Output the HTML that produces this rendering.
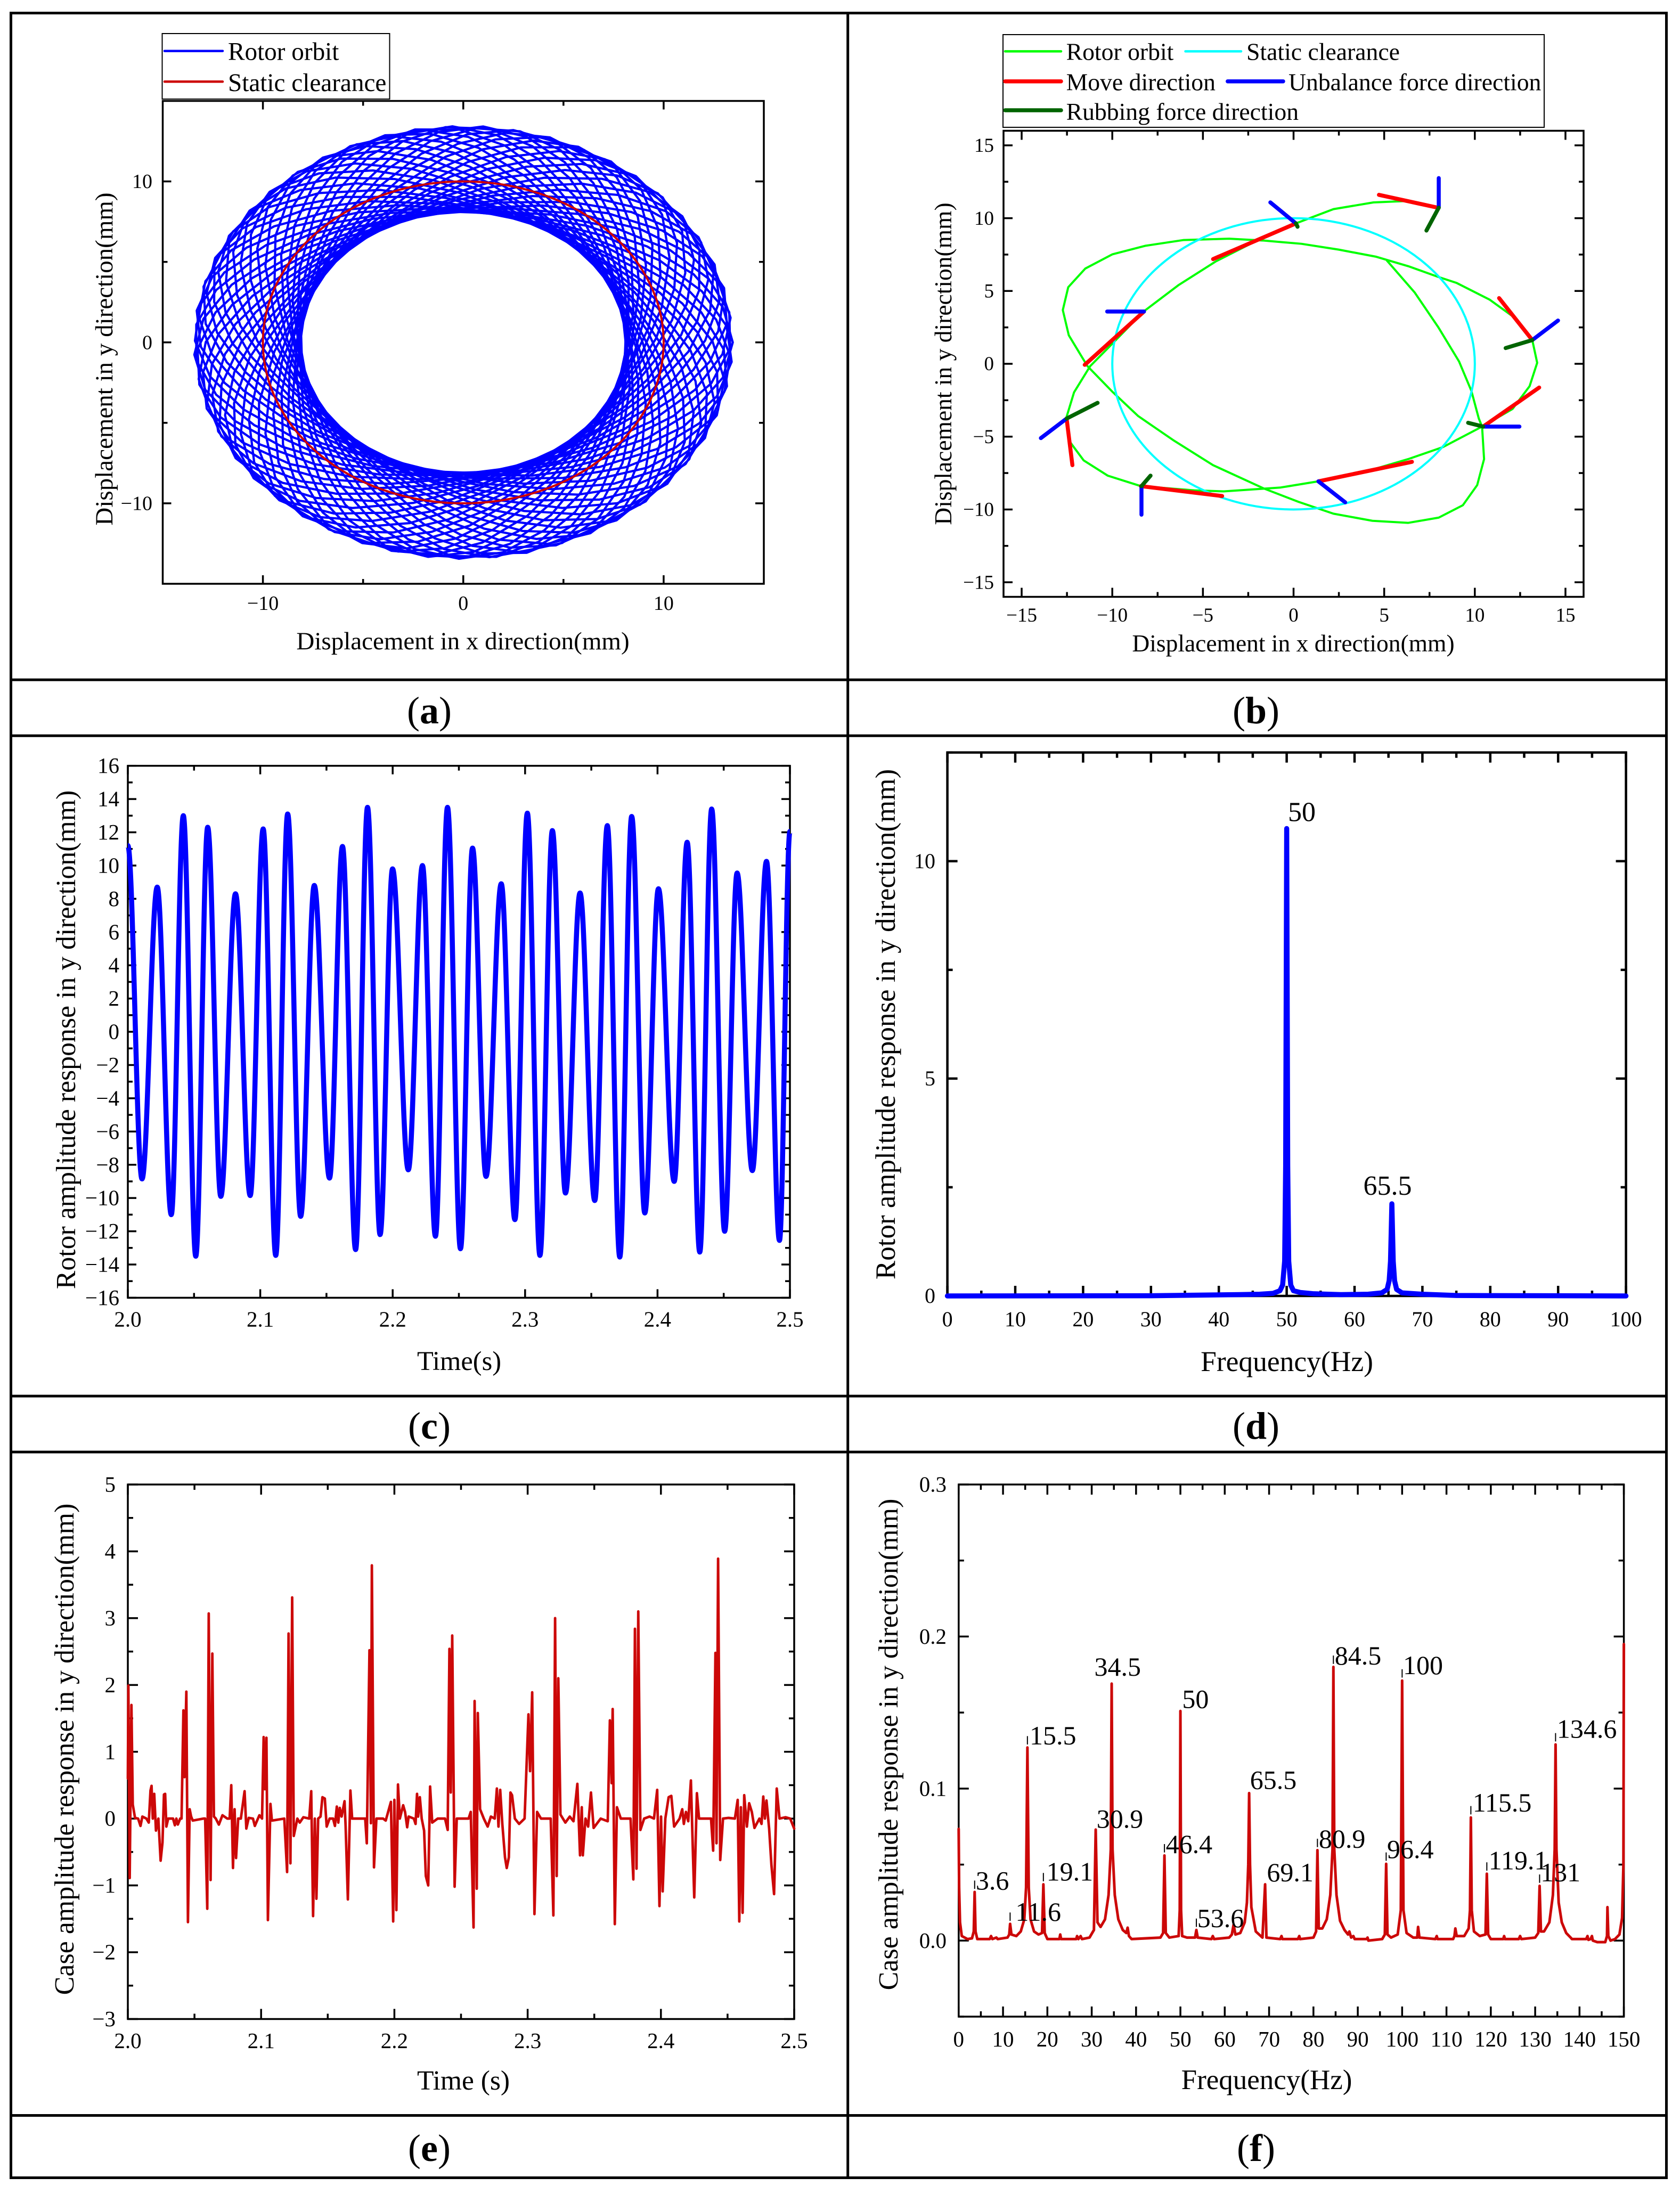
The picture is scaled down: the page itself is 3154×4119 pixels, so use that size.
<!DOCTYPE html>
<html lang="en">
<head>
<meta charset="utf-8">
<title>Rotor and case response figure</title>
<style>
html,body{margin:0;padding:0;background:#fff;}
svg{display:block;}
text{font-family:"Liberation Serif",serif;fill:#000;}
.rule{stroke:#000;stroke-width:5;fill:none;}
.cap{font-size:72px;text-anchor:middle;}
.cap tspan{font-weight:bold;}
.legend-box{fill:#fff;stroke:#000;stroke-width:2;}
</style>
</head>
<body>
<svg id="figure" width="3154" height="4119" viewBox="0 0 3154 4119">
<rect x="0" y="0" width="3154" height="4119" fill="#fff"/>

<g>
<rect class="rule" x="20.5" y="24.5" width="3108" height="4064"/>
<line class="rule" x1="1591.7" y1="24.5" x2="1591.7" y2="4088.5"/>
<line class="rule" x1="20.5" y1="1276.3" x2="3128.5" y2="1276.3"/>
<line class="rule" x1="20.5" y1="1381.3" x2="3128.5" y2="1381.3"/>
<line class="rule" x1="20.5" y1="2621" x2="3128.5" y2="2621"/>
<line class="rule" x1="20.5" y1="2726" x2="3128.5" y2="2726"/>
<line class="rule" x1="20.5" y1="3971.5" x2="3128.5" y2="3971.5"/>
</g>

<text class="cap" x="806" y="1358">(<tspan>a</tspan>)</text>
<text class="cap" x="2358" y="1358">(<tspan>b</tspan>)</text>
<text class="cap" x="806" y="2701">(<tspan>c</tspan>)</text>
<text class="cap" x="2358" y="2701">(<tspan>d</tspan>)</text>
<text class="cap" x="806" y="4057">(<tspan>e</tspan>)</text>
<text class="cap" x="2358" y="4057">(<tspan>f</tspan>)</text>

<g id="panel-a">
<text x="869" y="1219" font-size="47" text-anchor="middle">Displacement in x direction(mm)</text>
<text x="211" y="674" font-size="47" text-anchor="middle" transform="rotate(-90 211 674)">Displacement in y direction(mm)</text>
</g>
<g>
<rect class="legend-box" x="304.5" y="63" width="427" height="123"/>
<line x1="309" y1="95.7" x2="418" y2="95.7" stroke="#0000ff" stroke-width="4.5" stroke-linecap="round"/>
<text x="428" y="112.5" font-size="47.2">Rotor orbit</text>
<line x1="309" y1="153.3" x2="418" y2="153.3" stroke="#cc0000" stroke-width="4.5" stroke-linecap="round"/>
<text x="428" y="171" font-size="47.2">Static clearance</text>
</g>

<g id="panel-b">
<text x="2428" y="1223" font-size="45.5" text-anchor="middle">Displacement in x direction(mm)</text>
<text x="1786" y="683" font-size="45.5" text-anchor="middle" transform="rotate(-90 1786 683)">Displacement in y direction(mm)</text>
</g>
<g>
<rect class="legend-box" x="1883" y="65" width="1016" height="174"/>
<line x1="1887" y1="96.4" x2="1992" y2="96.4" stroke="#00ff00" stroke-width="4.5" stroke-linecap="round"/>
<text x="2001.6" y="112.5" font-size="45.7">Rotor orbit</text>
<line x1="2225.5" y1="96.4" x2="2330" y2="96.4" stroke="#00ffff" stroke-width="4.5" stroke-linecap="round"/>
<text x="2340" y="112.5" font-size="45.7">Static clearance</text>
<line x1="1887" y1="152.7" x2="1992" y2="152.7" stroke="#ff0000" stroke-width="7.5" stroke-linecap="round"/>
<text x="2001.6" y="169.6" font-size="45.7">Move direction</text>
<line x1="2304.8" y1="152.7" x2="2409" y2="152.7" stroke="#0000ff" stroke-width="7.5" stroke-linecap="round"/>
<text x="2419" y="169.6" font-size="45.7">Unbalance force direction</text>
<line x1="1887" y1="207" x2="1992" y2="207" stroke="#006400" stroke-width="7.5" stroke-linecap="round"/>
<text x="2001.6" y="225" font-size="45.7">Rubbing force direction</text>
</g>

<g id="panel-c">
<text x="862" y="2572" font-size="50.5" text-anchor="middle">Time(s)</text>
<text x="141" y="1952" font-size="51.8" text-anchor="middle" transform="rotate(-90 141 1952)">Rotor amplitude response in y direction(mm)</text>
</g>

<g id="panel-d">
<text x="2416" y="2574" font-size="53.5" text-anchor="middle">Frequency(Hz)</text>
<text x="1680" y="1923" font-size="53" text-anchor="middle" transform="rotate(-90 1680 1923)">Rotor amplitude response in y direction(mm)</text>
</g>

<g id="panel-e">
<text x="870" y="3923" font-size="51.5" text-anchor="middle">Time (s)</text>
<text x="138" y="3284" font-size="52" text-anchor="middle" transform="rotate(-90 138 3284)">Case amplitude response in y direction(mm)</text>
</g>

<g id="panel-f">
<text x="2378" y="3922" font-size="53" text-anchor="middle">Frequency(Hz)</text>
<text x="1685" y="3275" font-size="52" text-anchor="middle" transform="rotate(-90 1685 3275)">Case amplitude response in y direction(mm)</text>
</g>
</svg>

<script>
/* ---------- panel (a): rotor orbit, one closed loop per whirl turn ---------- */
const orbitLoopAngles = [0,4.5,9,13.5,18,22.5,27,31.5,36,40.5,45,49.5,54,58.5,63,67.5,72,76.5,81,85.5,90,94.5,99,103.5,108,112.5,117,121.5,126,130.5,135,139.5,144,148.5,153,157.5,162,166.5,171,175.5];
const orbitSemiMajor = [13.45];
const orbitSemiMinor = [8.15];
const clearanceRadius = [10];
const aXTicks = [-10,0,10];
const aXMinor = [-5,5];
const aYTicks = [-10,0,10];
const aYMinor = [-5,5];
const aXLabels = ['\u221210','0','10'];
const aYLabels = ['\u221210','0','10'];

/* ---------- panel (b): two-turn orbit and force directions ---------- */
const orbitB = [[5.15,7.09],[6.68,4.90],[7.98,2.52],[9.13,0.16],[9.81,-1.86],[10.22,-3.76],[10.40,-4.31],[10.51,-6.54],[10.13,-8.33],[9.34,-9.71],[8.01,-10.56],[6.33,-10.92],[4.35,-10.78],[2.20,-10.29],[0.28,-9.48],[-1.64,-8.56],[-4.44,-6.96],[-6.65,-5.23],[-8.57,-3.59],[-9.96,-1.96],[-11.37,-0.16],[-12.40,1.96],[-12.73,3.69],[-12.43,5.26],[-11.49,6.54],[-9.99,7.52],[-8.19,8.10],[-6.06,8.50],[-3.55,8.59],[-1.64,8.46],[0.43,8.24],[2.49,7.84],[4.56,7.35],[6.33,6.70],[7.95,5.98],[8.98,5.56],[10.81,4.41],[12.08,3.27],[13.17,1.63],[13.44,0.07],[13.02,-1.54],[12.08,-3.10],[10.40,-4.31],[8.24,-5.72],[6.33,-6.54],[4.56,-7.19],[1.37,-8.07],[-0.75,-8.50],[-3.85,-8.76],[-5.47,-8.69],[-8.42,-8.40],[-10.25,-7.68],[-11.58,-6.63],[-12.32,-5.39],[-12.55,-3.76],[-12.11,-1.96],[-11.22,-0.16],[-10.19,1.14],[-8.27,3.59],[-6.36,5.39],[-4.29,7.03],[-2.23,8.33],[0.13,9.64],[2.20,10.62],[4.41,11.08],[6.33,11.18]];
const moveSegments = [[4.71,11.60,7.95,10.72],[-4.44,7.19,0.13,9.64],[-11.52,-0.07,-8.25,3.59],[11.34,4.51,13.17,1.63],[13.55,-1.63,10.46,-4.31],[6.53,-6.73,1.37,-8.07],[-3.94,-9.08,-8.42,-8.40],[-12.2,-6.96,-12.52,-3.76]];
const unbalanceSegments = [[8.01,10.72,8.01,12.75],[-1.28,11.08,0.13,9.64],[-10.28,3.59,-8.25,3.59],[13.17,1.63,14.59,2.97],[10.46,-4.31,12.46,-4.31],[1.37,-8.07,2.85,-9.51],[-8.39,-8.40,-8.39,-10.36],[-12.52,-3.76,-13.94,-5.10]];
const rubbingSegments = [[8.01,10.72,7.33,9.15],[0.13,9.64,0.22,9.41],[13.17,1.63,11.70,1.08],[10.46,-4.31,9.63,-4.05],[-8.39,-8.40,-7.89,-7.68],[-12.52,-3.76,-10.81,-2.68]];
const bXTicks = [-15,-10,-5,0,5,10,15];
const bXMinor = [-12.5,-7.5,-2.5,2.5,7.5,12.5];
const bYTicks = [-15,-10,-5,0,5,10,15];
const bYMinor = [-12.5,-7.5,-2.5,2.5,7.5,12.5];
const bXLabels = ['\u221215','\u221210','\u22125','0','5','10','15'];
const bYLabels = ['\u221215','\u221210','\u22125','0','5','10','15'];

/* ---------- panel (c): rotor y response, successive extremes ---------- */
const rotorTimes = [2.0,2.0107,2.0222,2.0328,2.0419,2.0513,2.0603,2.0702,2.0813,2.0924,2.1022,2.1117,2.1207,2.1305,2.1408,2.1523,2.1621,2.172,2.181,2.1905,2.1999,2.2118,2.2225,2.2323,2.2414,2.2512,2.2603,2.2705,2.282,2.2923,2.3017,2.3112,2.3206,2.3305,2.3415,2.3526,2.3621,2.3715,2.3805,2.3904,2.4007,2.4126,2.4224,2.4319,2.4409,2.4507,2.4601,2.4716,2.4823,2.4921,2.5];
const rotorExtremes = [11.2,-8.85,8.7,-11.0,13.0,-13.5,12.3,-9.9,8.3,-9.85,12.2,-13.45,13.1,-11.1,8.8,-8.8,11.15,-13.1,13.5,-12.2,9.8,-8.3,10.0,-12.3,13.5,-13.05,11.05,-8.7,8.9,-11.3,13.15,-13.45,12.1,-9.7,8.35,-10.15,12.4,-13.55,12.95,-10.9,8.6,-9.0,11.4,-13.25,13.4,-12.0,9.55,-8.35,10.25,-12.55,12.05];
const cXTicks = [2.0,2.1,2.2,2.3,2.4,2.5];
const cXMinor = [2.05,2.15,2.25,2.35,2.45];
const cYTicks = [-16,-14,-12,-10,-8,-6,-4,-2,0,2,4,6,8,10,12,14,16];
const cYMinor = [-15,-13,-11,-9,-7,-5,-3,-1,1,3,5,7,9,11,13,15];
const cXLabels = ['2.0','2.1','2.2','2.3','2.4','2.5'];
const cYLabels = ['\u221216','\u221214','\u221212','\u221210','\u22128','\u22126','\u22124','\u22122','0','2','4','6','8','10','12','14','16'];

/* ---------- panel (d): rotor spectrum ---------- */
const rotorFreq = [0,30,43,46,48,49,49.4,49.7,49.85,50,50.15,50.3,50.6,51,52,54,58,62,64,64.8,65.1,65.3,65.5,65.7,65.9,66.2,67,70,75,100];
const rotorAmp = [0,0.005,0.03,0.04,0.06,0.12,0.25,0.8,3,10.75,3,0.8,0.25,0.12,0.08,0.05,0.03,0.04,0.07,0.15,0.35,0.8,2.12,0.8,0.35,0.15,0.07,0.04,0.01,0];
const dXTicks = [0,10,20,30,40,50,60,70,80,90,100];
const dXMinor = [5,15,25,35,45,55,65,75,85,95];
const dYTicks = [0,5,10];
const dYMinor = [2.5,7.5,12.5];
const dXLabels = ['0','10','20','30','40','50','60','70','80','90','100'];
const dYLabels = ['0','5','10'];
const dPeakText = ['50','65.5'];
const dPeakLabelX = [50.19,61.3];
const dPeakLabelY = [10.92,2.33];

/* ---------- panel (e): case y response ---------- */
const caseResponse = [[2.0,0.6],[2.0004,1.99],[2.0014,-0.89],[2.0027,1.70],[2.0037,0.21],[2.0054,0.01],[2.0077,0],[2.0095,-0.11],[2.0109,0.03],[2.0139,0],[2.0157,-0.06],[2.017,0.42],[2.0178,0.49],[2.0187,0],[2.0198,0.37],[2.0211,-0.18],[2.0229,0],[2.0246,-0.63],[2.026,-0.36],[2.0271,0.36],[2.028,0.37],[2.0289,-0.12],[2.0303,0],[2.0339,0],[2.0353,-0.10],[2.0364,0],[2.0375,-0.09],[2.0393,0],[2.0403,0],[2.0417,1.62],[2.0425,0.62],[2.0439,1.90],[2.0451,-1.55],[2.0464,0.14],[2.0475,0.03],[2.0487,-0.03],[2.0567,0],[2.058,0],[2.0596,-1.35],[2.0607,3.07],[2.0621,-0.92],[2.0634,2.47],[2.0646,0.03],[2.066,0],[2.0683,-0.09],[2.071,0.05],[2.0746,0],[2.0764,0],[2.0776,0.50],[2.0789,-0.74],[2.0801,0.14],[2.0812,-0.59],[2.0828,0],[2.0848,0],[2.0876,0.41],[2.0889,-0.15],[2.0907,0.01],[2.0939,0],[2.0953,-0.11],[2.0987,0.05],[2.1007,0],[2.1019,1.22],[2.1028,0.44],[2.104,1.21],[2.1051,-1.52],[2.107,0.22],[2.1081,-0.03],[2.1174,0],[2.1195,-0.80],[2.1206,2.77],[2.122,-0.67],[2.1233,3.31],[2.1245,-0.26],[2.1272,0],[2.129,-0.06],[2.1317,0.02],[2.1361,0],[2.1376,0.41],[2.139,-1.46],[2.1403,0],[2.1415,-1.2],[2.1428,0],[2.1446,0.03],[2.146,0.32],[2.1478,0.30],[2.1492,-0.12],[2.1514,0],[2.154,0],[2.1554,-0.11],[2.1568,0.18],[2.1579,-0.06],[2.159,0.16],[2.1604,0.03],[2.1626,0.26],[2.1634,-0.11],[2.1651,-1.21],[2.167,0.42],[2.1683,0],[2.1781,0],[2.1793,-0.37],[2.1813,2.52],[2.1824,-0.07],[2.1831,3.79],[2.1847,-0.73],[2.1865,0],[2.1915,0],[2.1935,-0.03],[2.1974,0.25],[2.1991,-1.54],[2.2,0.28],[2.2015,-1.37],[2.2027,0.51],[2.2041,0],[2.2066,0.2],[2.208,0.1],[2.2096,-0.13],[2.2107,0.03],[2.2146,0],[2.2159,-0.08],[2.217,0.37],[2.2178,0.03],[2.2191,0.32],[2.2205,0],[2.2223,-0.18],[2.2236,-0.86],[2.2254,-1.0],[2.2268,0.48],[2.2284,-0.06],[2.2325,0],[2.238,0],[2.24,-0.17],[2.2413,2.54],[2.2423,0.39],[2.2434,2.74],[2.2452,-1.02],[2.2468,0],[2.2557,0],[2.2573,0.1],[2.2594,-1.63],[2.2602,1.76],[2.2618,-1.05],[2.2626,1.58],[2.2643,0.14],[2.2671,0],[2.27,-0.12],[2.2724,0.03],[2.2753,0],[2.2769,0.45],[2.2781,-0.12],[2.2794,0.43],[2.281,-0.08],[2.283,-0.58],[2.2843,-0.74],[2.2859,-0.58],[2.2871,0.39],[2.2883,0.35],[2.2904,0],[2.2936,-0.08],[2.2977,0],[2.3006,1.56],[2.3018,0.71],[2.3034,1.89],[2.3051,-1.43],[2.3071,0.1],[2.31,0],[2.3173,0],[2.3193,-1.45],[2.3206,3.0],[2.3218,-0.86],[2.323,2.1],[2.3246,0.06],[2.3283,-0.06],[2.3316,0.03],[2.3344,-0.04],[2.3373,0.52],[2.3393,-0.55],[2.3406,0.17],[2.3414,-0.55],[2.3434,0],[2.3454,-0.12],[2.3475,0.39],[2.3495,-0.14],[2.3548,0],[2.3601,-0.04],[2.3617,1.47],[2.363,0.53],[2.3638,1.64],[2.3654,-1.58],[2.367,0.17],[2.3699,0],[2.3772,0],[2.3793,-0.91],[2.3805,2.84],[2.3817,-0.75],[2.383,3.1],[2.3846,-0.17],[2.3874,0],[2.3915,0.03],[2.3948,0],[2.3972,0.43],[2.3989,-1.31],[2.4001,0.03],[2.4013,-1.09],[2.4033,0],[2.4058,0.32],[2.4078,0.34],[2.4099,-0.12],[2.414,0],[2.416,0.14],[2.4172,-0.08],[2.4188,0.1],[2.4205,-0.04],[2.4225,0.57],[2.4241,-0.58],[2.425,-1.18],[2.427,0.38],[2.4286,0],[2.4376,0],[2.4392,-0.48],[2.4409,2.48],[2.4417,-0.37],[2.4429,3.89],[2.4445,-0.62],[2.4466,0],[2.4507,0.01],[2.4555,0],[2.4576,0.28],[2.4588,-1.54],[2.46,0.17],[2.4613,-1.41],[2.4625,0.35],[2.4645,-0.12],[2.4662,0.23],[2.4682,0.1],[2.4702,-0.14],[2.4739,0],[2.4755,-0.08],[2.4768,0.33],[2.478,0],[2.4792,0.27],[2.4812,-0.15],[2.4829,-0.69],[2.4849,-1.13],[2.4869,0.45],[2.489,0],[2.4935,0.02],[2.497,0],[2.5,-0.15]];
const eXTicks = [2.0,2.1,2.2,2.3,2.4,2.5];
const eXMinor = [2.05,2.15,2.25,2.35,2.45];
const eYTicks = [-3,-2,-1,0,1,2,3,4,5];
const eYMinor = [-2.5,-1.5,-0.5,0.5,1.5,2.5,3.5,4.5];
const eXLabels = ['2.0','2.1','2.2','2.3','2.4','2.5'];
const eYLabels = ['\u22123','\u22122','\u22121','0','1','2','3','4','5'];

/* ---------- panel (f): case spectrum ---------- */
const caseSpectrum = [[0,0.0735],[0.1,0.035],[0.3,0.012],[0.7,0.003],[2,0.001],[3,0.0015],[3.4,0.006],[3.6,0.032],[3.8,0.006],[4.2,0.001],[7,0.001],[7.3,0.003],[7.6,0.001],[8.5,0.002],[8.8,0.001],[11,0.002],[11.4,0.004],[11.6,0.011],[11.9,0.004],[13,0.003],[14,0.006],[14.8,0.014],[15.2,0.035],[15.5,0.127],[15.8,0.035],[16.2,0.014],[17,0.006],[18,0.004],[18.8,0.005],[19.1,0.037],[19.4,0.005],[20,0.001],[22.7,0.001],[22.9,0.004],[23.1,0.001],[26.5,0.001],[26.7,0.003],[27,0.001],[27.5,0.003],[27.8,0.001],[29.5,0.002],[30.5,0.007],[30.9,0.073],[31.3,0.012],[32,0.009],[33,0.014],[33.8,0.03],[34.3,0.06],[34.5,0.169],[34.7,0.06],[35.2,0.03],[36,0.014],[37,0.007],[37.8,0.005],[38.1,0.0085],[38.4,0.003],[39,0.001],[45.5,0.002],[46.1,0.005],[46.4,0.056],[46.7,0.005],[47.5,0.002],[49.6,0.003],[49.85,0.02],[50,0.151],[50.15,0.02],[50.4,0.003],[51.5,0.002],[53.3,0.002],[53.6,0.007],[53.9,0.002],[57,0.001],[57.3,0.003],[57.6,0.001],[61,0.002],[61.6,0.004],[62,0.0105],[62.4,0.004],[63.5,0.005],[64.5,0.012],[65,0.025],[65.3,0.05],[65.5,0.097],[65.7,0.05],[66,0.022],[67,0.006],[68.5,0.002],[69.1,0.037],[69.4,0.002],[72.5,0.001],[72.8,0.003],[73,0.001],[76.5,0.001],[76.8,0.003],[77,0.001],[80,0.002],[80.6,0.006],[80.9,0.0595],[81.2,0.008],[82,0.008],[83,0.014],[83.8,0.03],[84.3,0.06],[84.5,0.18],[84.7,0.06],[85.2,0.03],[86,0.013],[87,0.007],[87.8,0.004],[88.1,0.006],[88.5,0.002],[89,0.003],[89.3,0.001],[92,0.001],[92.2,0.002],[92.4,0],[95.5,0.001],[96.1,0.004],[96.4,0.0505],[96.7,0.004],[97.5,0.002],[99,0.004],[99.7,0.02],[100,0.171],[100.3,0.02],[101,0.005],[102.5,0.002],[103.4,0.002],[103.6,0.009],[103.9,0.002],[107.5,0.001],[107.8,0.003],[108,0.001],[111.5,0.001],[111.8,0.003],[112,0.008],[112.3,0.003],[114,0.003],[115,0.008],[115.3,0.02],[115.5,0.081],[115.7,0.02],[116.2,0.006],[117.5,0.003],[118.8,0.004],[119.1,0.044],[119.4,0.004],[120,0.001],[122.8,0.001],[123,0.003],[123.2,0.001],[126.3,0.001],[126.6,0.003],[126.9,0.001],[130,0.002],[130.7,0.005],[131,0.036],[131.3,0.006],[132,0.006],[133.2,0.012],[134,0.03],[134.4,0.06],[134.6,0.129],[134.8,0.06],[135.3,0.025],[136,0.012],[137,0.005],[138,0.002],[138.3,0.001],[141.5,0.001],[141.8,0.003],[142,0.0005],[142.5,0.001],[142.8,0.003],[143,0],[144,-0.001],[145.8,-0.001],[146.2,0.003],[146.3,0.022],[146.5,0.003],[147,0],[148,0.001],[149,0.004],[149.6,0.015],[149.9,0.05],[150,0.195]];
const fXTicks = [0,10,20,30,40,50,60,70,80,90,100,110,120,130,140,150];
const fXMinor = [5,15,25,35,45,55,65,75,85,95,105,115,125,135,145];
const fYTicks = [0,0.1,0.2,0.3];
const fYMinor = [-0.05,0.05,0.15,0.25];
const fXLabels = ['0','10','20','30','40','50','60','70','80','90','100','110','120','130','140','150'];
const fYLabels = ['0.0','0.1','0.2','0.3'];
const fPeakText = ['3.6','11.6','15.5','19.1','30.9','34.5','46.4','50','53.6','65.5','69.1','80.9','84.5','96.4','100','115.5','119.1','131','134.6'];
const fPeakLabelX = [3.86,12.8,16.0,19.8,31.1,30.6,46.7,50.4,53.8,65.7,69.5,81.2,84.8,96.6,100.2,115.9,119.5,131.2,134.9];
const fPeakLabelY = [0.0336,0.0130,0.129,0.0396,0.0742,0.1743,0.0576,0.1530,0.0089,0.0998,0.0390,0.0611,0.1815,0.0542,0.1752,0.0849,0.0469,0.0390,0.1334];
const fLeaderFreq = [3.6,11.6,15.5,19.1,46.4,53.6,80.9,84.5,96.4,100,115.5,119.1,131,134.6];
const fLeaderAmp = [0.032,0.011,0.127,0.037,0.056,0.007,0.0595,0.18,0.0505,0.171,0.081,0.044,0.036,0.129];

/* ---------- drawing helpers ---------- */
const root = document.getElementById('figure');

function mk(parent, tag, attrs, name) {
  const el = document.createElementNS(root.namespaceURI, tag);
  for (const k in attrs) { el.setAttribute(k, attrs[k]); }
  
  
  parent.appendChild(el);
  return el;
}

function linear(d0, d1, r0, r1) {
  return function (v) { return r0 + (v - d0) / (d1 - d0) * (r1 - r0); };
}

function drawAxes(g, prefix, c) {
  const xs = linear(c.xDomain[0], c.xDomain[1], c.left, c.right);
  const ys = linear(c.yDomain[0], c.yDomain[1], c.bottom, c.top);
  const tickStyle = { stroke: '#000', 'stroke-width': c.lw };
  function xTick(v, len, name) {
    const x = xs(v);
    mk(g, 'line', Object.assign({ x1: x, x2: x, y1: c.bottom, y2: c.bottom - len }, tickStyle), name);
    mk(g, 'line', Object.assign({ x1: x, x2: x, y1: c.top, y2: c.top + len }, tickStyle), name + '-top');
  }
  function yTick(v, len, name) {
    const y = ys(v);
    mk(g, 'line', Object.assign({ x1: c.left, x2: c.left + len, y1: y, y2: y }, tickStyle), name);
    mk(g, 'line', Object.assign({ x1: c.right, x2: c.right - len, y1: y, y2: y }, tickStyle), name + '-right');
  }
  c.xMinor.forEach(function (v) { xTick(v, c.minor, prefix + '-x-minor-tick'); });
  c.yMinor.forEach(function (v) { yTick(v, c.minor, prefix + '-y-minor-tick'); });
  c.xTicks.forEach(function (v, i) {
    xTick(v, c.major, prefix + '-x-major-tick');
    const t = mk(g, 'text', { x: xs(v), y: c.xLabelY, 'font-size': c.tickFont, 'text-anchor': 'middle' }, prefix + '-x-tick-label');
    t.textContent = c.xLabels[i];
  });
  c.yTicks.forEach(function (v, i) {
    yTick(v, c.major, prefix + '-y-major-tick');
    const t = mk(g, 'text', { x: c.yLabelX, y: ys(v) + c.tickFont * 0.33, 'font-size': c.tickFont, 'text-anchor': 'end' }, prefix + '-y-tick-label');
    t.textContent = c.yLabels[i];
  });
  mk(g, 'rect', { x: c.left, y: c.top, width: c.right - c.left, height: c.bottom - c.top, fill: 'none', stroke: '#000', 'stroke-width': c.lw }, prefix + '-plot-frame');
  return { xs: xs, ys: ys };
}

function polyPath(points, xs, ys) {
  return points.map(function (p, i) {
    return (i ? 'L' : 'M') + xs(p[0]).toFixed(2) + ' ' + ys(p[1]).toFixed(2);
  }).join('');
}

function drawLine(g, points, s, stroke, width, name) {
  return mk(g, 'path', { d: polyPath(points, s.xs, s.ys), fill: 'none', stroke: stroke, 'stroke-width': width, 'stroke-linejoin': 'round', 'stroke-linecap': 'round' }, name);
}

function zipXY(a, b) {
  return a.map(function (v, i) { return [v, b[i]]; });
}

function drawSegments(g, list, s, stroke, width, name) {
  list.forEach(function (q) {
    mk(g, 'line', { x1: s.xs(q[0]), y1: s.ys(q[1]), x2: s.xs(q[2]), y2: s.ys(q[3]), stroke: stroke, 'stroke-width': width, 'stroke-linecap': 'round' }, name);
  });
}

/* ---------- panel (a) ---------- */
(function () {
  const g = document.getElementById('panel-a');
  const s = drawAxes(g, 'panel-a', { left: 305.5, right: 1434, top: 189.5, bottom: 1096, xDomain: [-15, 15], yDomain: [-15, 15], xTicks: aXTicks, xMinor: aXMinor, yTicks: aYTicks, yMinor: aYMinor, xLabels: aXLabels, yLabels: aYLabels, major: 16, minor: 9, lw: 3.5, tickFont: 38, xLabelY: 1145, yLabelX: 286 });
  orbitLoopAngles.forEach(function (deg, n) {
    const al = deg * Math.PI / 180;
    const pts = [];
    for (let j = 0; j < 23; j++) {
      const u = (j + n * 0.37) / 23 * 2 * Math.PI;
      const ca = orbitSemiMajor[0] * Math.cos(u);
      const cb = orbitSemiMinor[0] * Math.sin(u);
      pts.push([ca * Math.cos(al) - cb * Math.sin(al), ca * Math.sin(al) + cb * Math.cos(al)]);
    }
    const line = drawLine(g, pts, s, '#0000ff', 4.2, 'rotor-orbit-loop');
    line.setAttribute('d', line.getAttribute('d') + 'Z');
  });
  mk(g, 'ellipse', { cx: s.xs(0), cy: s.ys(0), rx: s.xs(clearanceRadius[0]) - s.xs(0), ry: s.ys(0) - s.ys(clearanceRadius[0]), fill: 'none', stroke: '#cc0000', 'stroke-width': 4 }, 'static-clearance-circle');
})();

/* ---------- panel (b) ---------- */
(function () {
  const g = document.getElementById('panel-b');
  const s = drawAxes(g, 'panel-b', { left: 1884, right: 2973, top: 245.5, bottom: 1120.5, xDomain: [-16, 16], yDomain: [-16, 16], xTicks: bXTicks, xMinor: bXMinor, yTicks: bYTicks, yMinor: bYMinor, xLabels: bXLabels, yLabels: bYLabels, major: 17, minor: 9, lw: 3.5, tickFont: 37, xLabelY: 1167, yLabelX: 1866 });
  drawLine(g, orbitB, s, '#00ff00', 4, 'rotor-orbit-line');
  mk(g, 'ellipse', { cx: s.xs(0), cy: s.ys(0), rx: s.xs(clearanceRadius[0]) - s.xs(0), ry: s.ys(0) - s.ys(clearanceRadius[0]), fill: 'none', stroke: '#00ffff', 'stroke-width': 4 }, 'static-clearance-circle-b');
  drawSegments(g, moveSegments, s, '#ff0000', 7.5, 'move-direction-segment');
  drawSegments(g, unbalanceSegments, s, '#0000ff', 7.5, 'unbalance-force-segment');
  drawSegments(g, rubbingSegments, s, '#006400', 7.5, 'rubbing-force-segment');
})();

/* ---------- panel (c) ---------- */
(function () {
  const g = document.getElementById('panel-c');
  const s = drawAxes(g, 'panel-c', { left: 240, right: 1483, top: 1437.7, bottom: 2436.4, xDomain: [2.0, 2.5], yDomain: [-16, 16], xTicks: cXTicks, xMinor: cXMinor, yTicks: cYTicks, yMinor: cYMinor, xLabels: cXLabels, yLabels: cYLabels, major: 16, minor: 9, lw: 3.5, tickFont: 41, xLabelY: 2490.6, yLabelX: 224 });
  let d = 'M' + s.xs(rotorTimes[0]).toFixed(2) + ' ' + s.ys(rotorExtremes[0]).toFixed(2);
  for (let i = 1; i < rotorTimes.length; i++) {
    const x0 = s.xs(rotorTimes[i - 1]);
    const x1 = s.xs(rotorTimes[i]);
    const y0 = s.ys(rotorExtremes[i - 1]);
    const y1 = s.ys(rotorExtremes[i]);
    const h = (x1 - x0) * 0.3642;
    d += 'C' + (x0 + h).toFixed(2) + ' ' + y0.toFixed(2) + ' ' + (x1 - h).toFixed(2) + ' ' + y1.toFixed(2) + ' ' + x1.toFixed(2) + ' ' + y1.toFixed(2);
  }
  mk(g, 'path', { d: d, fill: 'none', stroke: '#0000ff', 'stroke-width': 9.5, 'stroke-linejoin': 'round' }, 'rotor-response-line');
})();

/* ---------- panel (d) ---------- */
(function () {
  const g = document.getElementById('panel-d');
  const s = drawAxes(g, 'panel-d', { left: 1778.6, right: 3052.6, top: 1412.7, bottom: 2433, xDomain: [0, 100], yDomain: [0, 12.5], xTicks: dXTicks, xMinor: dXMinor, yTicks: dYTicks, yMinor: dYMinor, xLabels: dXLabels, yLabels: dYLabels, major: 19, minor: 10, lw: 4.5, tickFont: 40, xLabelY: 2490, yLabelX: 1756 });
  drawLine(g, zipXY(rotorFreq, rotorAmp), s, '#0000ff', 9.5, 'rotor-spectrum-line');
  dPeakText.forEach(function (label, i) {
    const t = mk(g, 'text', { x: s.xs(dPeakLabelX[i]), y: s.ys(dPeakLabelY[i]), 'font-size': 52 }, 'rotor-peak-label');
    t.textContent = label;
  });
})();

/* ---------- panel (e) ---------- */
(function () {
  const g = document.getElementById('panel-e');
  const s = drawAxes(g, 'panel-e', { left: 240, right: 1491, top: 2787, bottom: 3790.5, xDomain: [2.0, 2.5], yDomain: [-3, 5], xTicks: eXTicks, xMinor: eXMinor, yTicks: eYTicks, yMinor: eYMinor, xLabels: eXLabels, yLabels: eYLabels, major: 19, minor: 10, lw: 3.5, tickFont: 41, xLabelY: 3845, yLabelX: 217 });
  drawLine(g, caseResponse, s, '#cc0808', 4.8, 'case-response-line');
})();

/* ---------- panel (f) ---------- */
(function () {
  const g = document.getElementById('panel-f');
  const s = drawAxes(g, 'panel-f', { left: 1799.8, right: 3048.6, top: 2787, bottom: 3786, xDomain: [0, 150], yDomain: [-0.05, 0.3], xTicks: fXTicks, xMinor: fXMinor, yTicks: fYTicks, yMinor: fYMinor, xLabels: fXLabels, yLabels: fYLabels, major: 19, minor: 10, lw: 3.5, tickFont: 41, xLabelY: 3842, yLabelX: 1777 });
  drawLine(g, caseSpectrum, s, '#cc0808', 5, 'case-spectrum-line');
  fLeaderFreq.forEach(function (f, i) {
    mk(g, 'line', { x1: s.xs(f), x2: s.xs(f), y1: s.ys(fLeaderAmp[i] + 0.002), y2: s.ys(fLeaderAmp[i] + 0.0075), stroke: '#000', 'stroke-width': 2 }, 'peak-leader-line');
  });
  fPeakText.forEach(function (label, i) {
    const t = mk(g, 'text', { x: s.xs(fPeakLabelX[i]), y: s.ys(fPeakLabelY[i]), 'font-size': 50 }, 'case-peak-label');
    t.textContent = label;
  });
})();
</script>
</body>
</html>
